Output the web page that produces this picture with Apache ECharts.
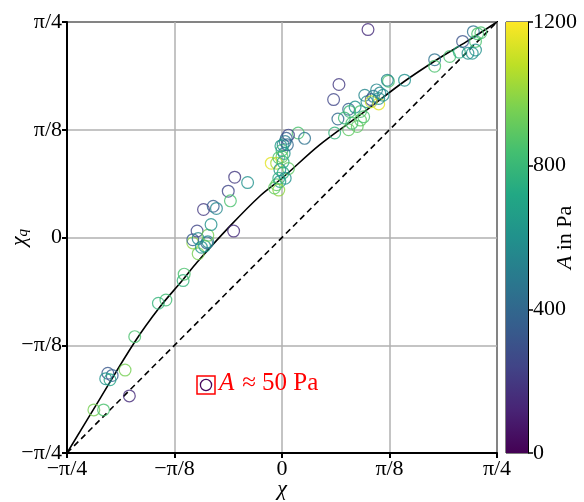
<!DOCTYPE html>
<html>
<head>
<meta charset="utf-8">
<script src="https://cdn.jsdelivr.net/npm/echarts@6/dist/echarts.min.js"></script>
<style>html,body{margin:0;padding:0;background:#fff}#c{width:584px;height:502px}</style>
</head>
<body>
<div id="c"></div>
<script>
// All angle values are in units of pi/8 (so -2 = -pi/4, 2 = pi/4)
const tickLabels = ['\u2212\u03c0/4', '\u2212\u03c0/8', '0', '\u03c0/8', '\u03c0/4'];
const colorbarTicks = [0, 400, 800, 1200];

// measured points: chi, chi_q (units of pi/8), amplitude A in Pa
const chiValues = [
  -1.75, -1.66, -1.42, -1.62, -1.58, -1.64, -1.60, -1.46, -1.37, -1.15, -1.08, -0.92, -0.91,
  -0.78, -0.83, -0.83, -0.79, -0.78, -0.75, -0.72, -0.70, -0.69, -0.69, -0.66, -0.45, -0.73,
  -0.64, -0.61, -0.50, -0.48, -0.44, -0.32,
  0.15, 0.21, 0.06, 0.04, 0.03, 0.01, 0.00, 0.02, 0.00, -0.10, -0.05, 0.01, 0.06, -0.02, 0.01,
  -0.03, 0.03, -0.05, -0.02, -0.03, -0.07, -0.01, -0.03, 0.05,
  0.80, 0.53, 0.48, 0.62, 0.52, 0.49, 0.62, 0.70, 0.76, 0.73, 0.68, 0.63, 0.79, 0.77, 0.85,
  0.83, 0.90, 0.83, 0.91, 0.90, 0.99, 0.98, 1.14, 0.73, 0.65, 0.58, 0.88, 0.94,
  1.42, 1.42, 1.56, 1.65, 1.68, 1.73, 1.80, 1.80, 1.78, 1.82, 1.85, 1.77
];
const chiQValues = [
  -1.60, -1.60, -1.47, -1.26, -1.28, -1.31, -1.32, -1.23, -0.92, -0.61, -0.58, -0.40, -0.34,
  -0.15, -0.05, -0.02, 0.06, -0.01, -0.09, -0.08, -0.05, -0.04, 0.02, 0.12, 0.06, 0.26,
  0.29, 0.27, 0.43, 0.34, 0.56, 0.51,
  0.97, 0.92, 0.95, 0.92, 0.89, 0.86, 0.81, 0.78, 0.75, 0.69, 0.69, 0.70, 0.64, 0.63, 0.60,
  0.55, 0.55, 0.49, 0.52, 0.44, 0.46, 0.85, 0.74, 0.86,
  1.93, 1.42, 1.28, 1.19, 1.10, 0.97, 1.00, 1.03, 1.12, 1.17, 1.21, 1.17, 1.26, 1.32, 1.31,
  1.28, 1.24, 1.26, 1.34, 1.29, 1.45, 1.46, 1.46, 1.09, 1.06, 1.11, 1.37, 1.32,
  1.65, 1.59, 1.68, 1.72, 1.82, 1.71, 1.74, 1.82, 1.91, 1.89, 1.90, 1.71
];
const amplitudeValues = [
  950, 850, 150, 330, 360, 600, 700, 950, 850, 780, 820, 780, 850,
  950, 1000, 350, 250, 550, 600, 650, 400, 550, 950, 600, 150, 200,
  350, 550, 250, 850, 200, 600,
  850, 450, 250, 350, 500, 550, 800, 600, 900, 1150, 1050, 750, 900, 600, 750,
  750, 600, 900, 650, 1000, 900, 650, 850, 400,
  150, 200, 250, 350, 400, 780, 900, 900, 850, 850, 600, 800, 600, 550, 450,
  250, 1150, 1100, 550, 600, 850, 550, 600, 900, 850, 800, 550, 600,
  450, 850, 850, 750, 300, 600, 600, 850, 450, 850, 850, 600
];

// solid model curve (units of pi/8)
const curveChi  = [-2, -1.69, -1.37, -1.14, -0.92, -0.79, -0.48, -0.20, 0, 0.35, 0.73, 1.14, 1.44, 1.72, 2];
const curveChiQ = [-2, -1.49, -0.97, -0.65, -0.39, -0.23, 0.11, 0.39, 0.55, 0.86, 1.14, 1.45, 1.65, 1.82, 2];
// identity reference line
const diagChi = [-2, 2];
const diagChiQ = [-2, 2];

const viridis = ['#440154','#482475','#414487','#355f8d','#2a788e','#21918c','#22a884','#44bf70','#7ad151','#bddf26','#fde725'];
const FONT = '"Liberation Serif", "Times New Roman", serif';
const ring = 'path://M0,-10A10,10,0,1,1,0,10A10,10,0,1,1,0,-10ZM0,-8.1A8.1,8.1,0,1,0,0,8.1A8.1,8.1,0,1,0,0,-8.1Z';

const scatterData = chiValues.map((x, i) => [x, chiQValues[i], amplitudeValues[i]]);
const curveData = curveChi.map((x, i) => [x, curveChiQ[i]]);
const diagData = diagChi.map((x, i) => [x, diagChiQ[i]]);

const chart = echarts.init(document.getElementById('c'), null, {renderer: 'canvas'});
const axisCommon = {
  type: 'value', min: -2, max: 2, interval: 1,
  axisLine: {show: true, onZero: false, lineStyle: {color: '#000', width: 2}},
  axisTick: {show: true, inside: false, length: 5, lineStyle: {color: '#000', width: 2}},
  splitLine: {show: true, lineStyle: {color: '#b0b0b0', width: 1.5}},
  axisLabel: {fontFamily: FONT, fontSize: 22, color: '#000', formatter: v => tickLabels[Math.round(v) + 2]}
};
chart.setOption({
  animation: false,
  grid: [
    {left: 67, top: 22, width: 430, height: 431, containLabel: false, outerBoundsMode: 'none', show: true, borderColor: '#000', borderWidth: 2, backgroundColor: 'transparent'},
    {left: 506, top: 22, width: 22, height: 431, containLabel: false, outerBoundsMode: 'none', show: true, borderColor: '#000', borderWidth: 1}
  ],
  xAxis: [
    Object.assign({}, axisCommon, {gridIndex: 0, name: '\u03c7', nameLocation: 'middle', nameGap: 25, nameMoveOverlap: false,
      nameTextStyle: {fontFamily: FONT, fontSize: 22, fontStyle: 'italic', color: '#000'},
      axisLabel: Object.assign({}, axisCommon.axisLabel, {margin: 5})}),
    {type: 'category', gridIndex: 1, data: [''], show: false}
  ],
  yAxis: [
    Object.assign({}, axisCommon, {gridIndex: 0, name: '{a|\u03c7}{s|q}', nameLocation: 'middle', nameGap: 36, nameRotate: 90, nameMoveOverlap: false,
      nameTextStyle: {rich: {a: {fontFamily: FONT, fontSize: 22, fontStyle: 'italic', color: '#000'},
                             s: {fontFamily: FONT, fontSize: 15, fontStyle: 'italic', color: '#000', verticalAlign: 'bottom', padding: [8, 0, 0, 0]}}},
      axisLabel: Object.assign({}, axisCommon.axisLabel, {margin: 5})}),
    {type: 'value', gridIndex: 1, position: 'right', min: colorbarTicks[0], max: colorbarTicks[colorbarTicks.length - 1], interval: 400,
      axisLine: {show: true, lineStyle: {color: '#000', width: 1}},
      axisTick: {show: true, length: 5, lineStyle: {color: '#000', width: 1.5}},
      splitLine: {show: false},
      axisLabel: {fontFamily: FONT, fontSize: 22, color: '#000', margin: 5, formatter: v => String(v)},
      name: '{i|A} in Pa', nameLocation: 'middle', nameGap: 26, nameRotate: 90, nameMoveOverlap: false,
      nameTextStyle: {fontFamily: FONT, fontSize: 22, color: '#000', rich: {i: {fontFamily: FONT, fontSize: 22, fontStyle: 'italic', color: '#000'}}}}
  ],
  visualMap: {type: 'continuous', show: false, seriesIndex: 2, dimension: 2, min: 0, max: 1200, inRange: {color: viridis}},
  series: [
    {type: 'line', xAxisIndex: 0, yAxisIndex: 0, data: diagData, symbol: 'none', silent: true,
      lineStyle: {color: '#000', width: 1.6, type: [6, 4]}, z: 3},
    {type: 'line', xAxisIndex: 0, yAxisIndex: 0, data: curveData, symbol: 'none', smooth: 0.35, silent: true,
      lineStyle: {color: '#000', width: 1.6}, z: 3},
    {type: 'scatter', xAxisIndex: 0, yAxisIndex: 0, data: scatterData, symbol: ring, symbolSize: 13, z: 4},
    {type: 'bar', xAxisIndex: 1, yAxisIndex: 1, data: [colorbarTicks[colorbarTicks.length - 1]], barWidth: '100%', silent: true,
      itemStyle: {color: new echarts.graphic.LinearGradient(0, 0, 0, 1, viridis.slice().reverse().map((c, i, a) => ({offset: i / (a.length - 1), color: c})))}}
  ],
  graphic: [
    {type: 'rect', shape: {x: 197, y: 376, width: 18, height: 18}, style: {fill: 'none', stroke: '#ff0000', lineWidth: 1.5}, z: 10},
    {type: 'circle', shape: {cx: 206, cy: 385, r: 5.6}, style: {fill: 'none', stroke: '#46085c', lineWidth: 1.3}, z: 10},
    {type: 'text', left: 219, top: 371, style: {text: '{i|A}{s|\u2248}{n|50 Pa}', fill: '#ff0000', font: '25px ' + FONT,
      rich: {i: {fontStyle: 'italic', fontFamily: FONT, fontSize: 25, fill: '#ff0000'},
             s: {fontFamily: FONT, fontSize: 25, fill: '#ff0000', padding: [0, 6, 0, 8]},
             n: {fontFamily: FONT, fontSize: 25, fill: '#ff0000'}}}, z: 10}
  ]
});
</script>
</body>
</html>
